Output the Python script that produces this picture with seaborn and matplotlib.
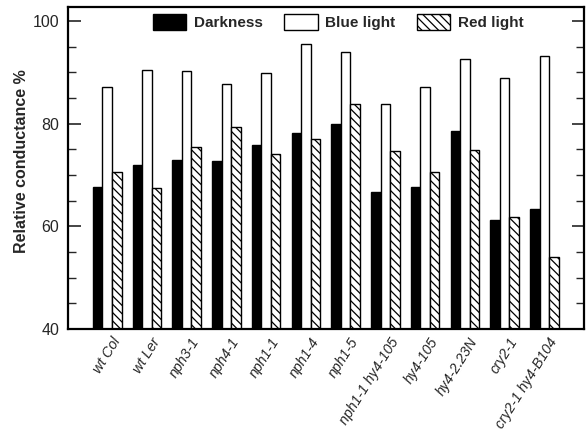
import matplotlib
matplotlib.use("Agg")
import matplotlib.pyplot as plt
import matplotlib.transforms as mtransforms
import seaborn as sns
import pandas as pd
from matplotlib.ticker import MultipleLocator

strains = ["wt Col", "wt Ler", "nph3-1", "nph4-1", "nph1-1", "nph1-4", "nph1-5",
           "nph1-1 hy4-105", "hy4-105", "hy4-2.23N", "cry2-1", "cry2-1 hy4-B104"]
conditions = ["Darkness", "Blue light", "Red light"]
darkness = [67.6, 72.0, 73.0, 72.7, 75.9, 78.2, 80.0, 66.7, 67.6, 78.6, 61.2, 63.4]
blue_light = [87.1, 90.4, 90.2, 87.8, 89.8, 95.5, 93.9, 83.8, 87.2, 92.5, 88.9, 93.1]
red_light = [70.5, 67.5, 75.5, 79.4, 74.1, 77.0, 83.9, 74.6, 70.5, 74.9, 61.8, 54.0]
y_ticks = [40, 60, 80, 100]

rows = []
for cond, vals in zip(conditions, [darkness, blue_light, red_light]):
    for s, v in zip(strains, vals):
        rows.append({"strain": s, "condition": cond, "value": v})
df = pd.DataFrame(rows)

sns.set_theme(style="ticks")
plt.rcParams["font.family"] = ["Liberation Sans", "DejaVu Sans"]
plt.rcParams["hatch.linewidth"] = 0.9

fig = plt.figure(figsize=(5.87, 4.33), dpi=100)
ax = fig.add_axes([67.5 / 587, 1 - 329 / 433, (584 - 67.5) / 587, (329 - 7) / 433])

sns.barplot(data=df, x="strain", y="value", hue="condition", order=strains,
            hue_order=conditions, palette=["black", "white", "white"],
            edgecolor="black", linewidth=1.0, width=0.72, saturation=1,
            errorbar=None, ax=ax)

for p in ax.containers[2].patches:
    p.set_hatch("\\\\\\\\")

ax.set_xlim(-1, 12)
ax.set_ylim(40, 102.7)
ax.set_yticks(y_ticks)
ax.yaxis.set_minor_locator(MultipleLocator(5))
ax.tick_params(axis="y", which="major", direction="in", length=9, width=1.2,
               right=True, labelsize=11.5, pad=6)
ax.tick_params(axis="y", which="minor", direction="in", length=5.5, width=1.0,
               right=True)
ax.tick_params(axis="x", length=0, pad=4.5)
ax.set_xticks(range(len(strains)))
ax.set_xticklabels(strains, rotation=58, ha="right", va="top",
                   rotation_mode="anchor", fontstyle="italic", fontsize=10.2)
offset = mtransforms.ScaledTranslation(4 / 100, 0, fig.dpi_scale_trans)
for lbl in ax.get_xticklabels():
    lbl.set_transform(lbl.get_transform() + offset)
for sp in ax.spines.values():
    sp.set_linewidth(1.6)
    sp.set_color("black")
    sp.set_visible(True)

ax.set_xlabel("")
ax.set_ylabel("Relative conductance %", fontsize=11.5, fontweight="bold", labelpad=4)
ax.yaxis.set_label_coords(-0.074, 0.52)

leg = ax.legend(ax.containers, conditions, loc="center", bbox_to_anchor=(0.524, 0.953),
                ncol=3, frameon=False, handlelength=2.2, handleheight=1.25,
                handletextpad=0.5, columnspacing=1.4,
                prop={"weight": "bold", "size": 11})

fig.savefig("out.png", dpi=100)
